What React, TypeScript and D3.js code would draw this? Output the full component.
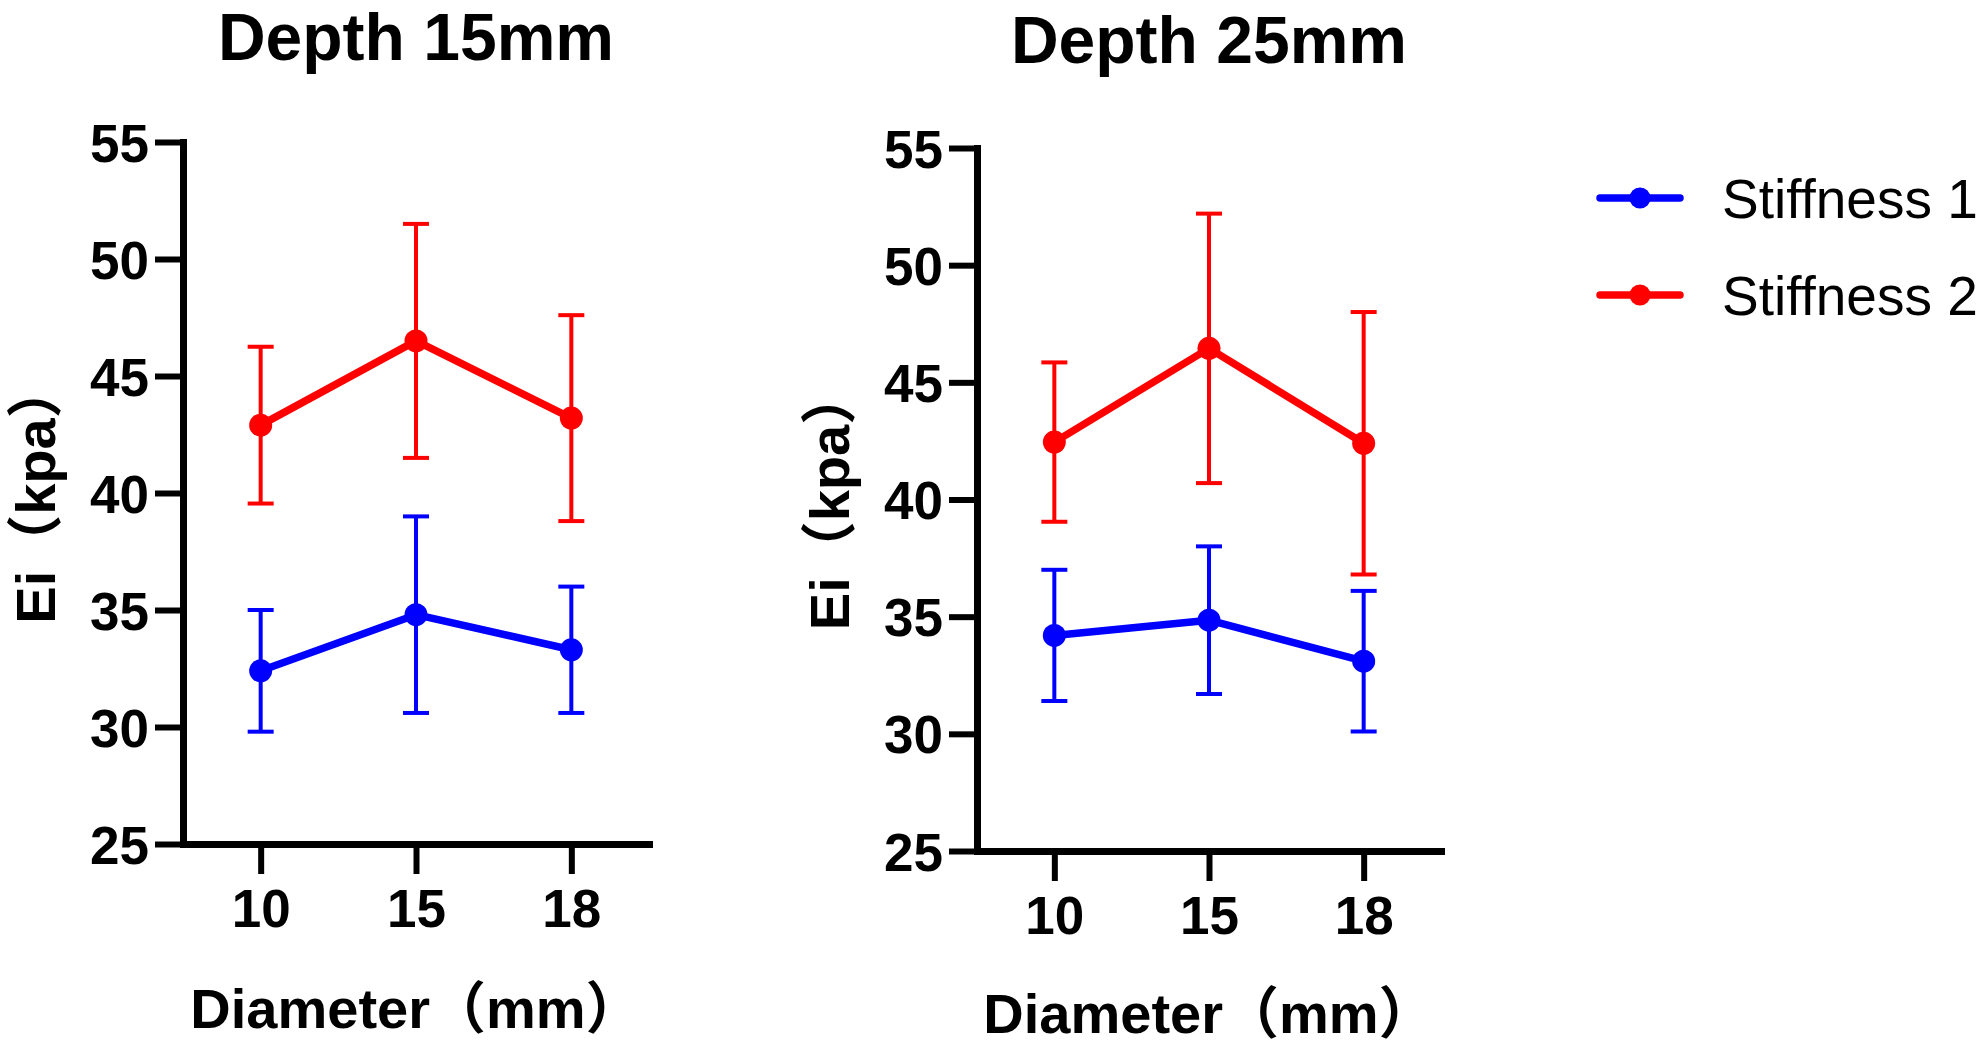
import React, { useEffect, useRef } from 'react';
import * as d3 from 'd3';

const diameters = ['10', '15', '18'];
const yTicks = [25, 30, 35, 40, 45, 50, 55];
const seriesNames = ['Stiffness 1', 'Stiffness 2'];
const seriesColors = ['#0000ff', '#ff0000'];

// depth 15mm, mean and SD per diameter
const d15Stiff1Mean = [32.4, 34.8, 33.3];
const d15Stiff1Sd = [2.6, 4.2, 2.7];
const d15Stiff2Mean = [42.9, 46.5, 43.2];
const d15Stiff2Sd = [3.35, 5.0, 4.4];

// depth 25mm
const d25Stiff1Mean = [34.2, 34.85, 33.1];
const d25Stiff1Sd = [2.8, 3.15, 3.0];
const d25Stiff2Mean = [42.45, 46.45, 42.4];
const d25Stiff2Sd = [3.4, 5.75, 5.6];

const FONT = '"Liberation Sans", Arial, "Noto Sans CJK SC", sans-serif';

type PanelProps = {
  title: string;
  means: number[][];
  sds: number[][];
  x0: number; x1: number; y0: number; y1: number;
  titleY: number; xTitleY: number;
};

function Panel({ title, means, sds, x0, x1, y0, y1, titleY, xTitleY }: PanelProps) {
  const xRef = useRef<SVGGElement>(null);
  const yRef = useRef<SVGGElement>(null);
  const x = d3.scalePoint<string>().domain(diameters).range([x0, x1]).padding(0.5);
  const y = d3.scaleLinear().domain([25, 55]).range([y1, y0]);

  useEffect(() => {
    const ya = d3.axisLeft(y).tickValues(yTicks).tickSize(28).tickSizeOuter(0).tickPadding(6).tickFormat(d3.format('d'));
    const gy = d3.select(yRef.current!).call(ya);
    const xa = d3.axisBottom(x).tickSize(30).tickSizeOuter(0).tickPadding(15);
    const gx = d3.select(xRef.current!).call(xa);
    [gy, gx].forEach(g => {
      g.attr('font-family', FONT).attr('font-size', 53).attr('font-weight', 'bold');
      g.select('.domain').attr('stroke', '#000').attr('stroke-width', 7).attr('stroke-linecap', 'square');
      g.selectAll('.tick line').attr('stroke', '#000').attr('stroke-width', 6);
      g.selectAll('.tick text').attr('fill', '#000');
    });
    gy.selectAll('.tick text').attr('dy', '0.36em');
  }, []);

  const line = d3.line<number>().x((_, i) => x(diameters[i])!).y(d => y(d));
  const cap = 13;

  return (
    <g>
      <text x={(x0 + x1) / 2} y={titleY} textAnchor="middle" fontFamily={FONT} fontSize={66} fontWeight="bold">{title}</text>
      {means.map((m, s) => (
        <g key={s} stroke={seriesColors[s]} fill={seriesColors[s]}>
          {m.map((v, i) => {
            const cx = x(diameters[i])!;
            const hi = y(v + sds[s][i]);
            const lo = y(v - sds[s][i]);
            return (
              <g key={i} strokeWidth={4}>
                <line x1={cx} x2={cx} y1={hi} y2={lo} />
                <line x1={cx - cap} x2={cx + cap} y1={hi} y2={hi} />
                <line x1={cx - cap} x2={cx + cap} y1={lo} y2={lo} />
              </g>
            );
          })}
          <path d={line(m)!} fill="none" strokeWidth={7.5} strokeLinejoin="round" />
          {m.map((v, i) => (
            <circle key={i} cx={x(diameters[i])!} cy={y(v)} r={11.5} stroke="none" />
          ))}
        </g>
      ))}
      <g ref={yRef} transform={`translate(${x0},0)`} />
      <g ref={xRef} transform={`translate(0,${y1})`} />
      <text transform={`translate(${x0 - 128},${(y0 + y1) / 2}) rotate(-90)`} textAnchor="middle"
        fontFamily={FONT} fontSize={56} fontWeight="bold">Ei（kpa）</text>
      <text x={(x0 + x1) / 2} y={xTitleY} textAnchor="middle" fontFamily={FONT} fontSize={56} fontWeight="bold">Diameter（mm）</text>
    </g>
  );
}

export default function App() {
  const legendY = [198, 295];
  return (
    <svg width={1982} height={1050} style={{ position: 'absolute', left: 0, top: 0, background: '#fff' }}>
      <rect width={1982} height={1050} fill="#fff" />
      <Panel title="Depth 15mm" means={[d15Stiff1Mean, d15Stiff2Mean]} sds={[d15Stiff1Sd, d15Stiff2Sd]}
        x0={183} x1={649} y0={142} y1={844} titleY={60} xTitleY={1028} />
      <Panel title="Depth 25mm" means={[d25Stiff1Mean, d25Stiff2Mean]} sds={[d25Stiff1Sd, d25Stiff2Sd]}
        x0={977} x1={1441} y0={148} y1={851} titleY={63} xTitleY={1033} />
      {seriesNames.map((name, i) => (
        <g key={name}>
          <line x1={1600} x2={1680} y1={legendY[i]} y2={legendY[i]} stroke={seriesColors[i]} strokeWidth={7.5} strokeLinecap="round" />
          <circle cx={1640} cy={legendY[i]} r={10.5} fill={seriesColors[i]} />
          <text x={1722} y={legendY[i] + 20} fontFamily={FONT} fontSize={55}>{name}</text>
        </g>
      ))}
    </svg>
  );
}
